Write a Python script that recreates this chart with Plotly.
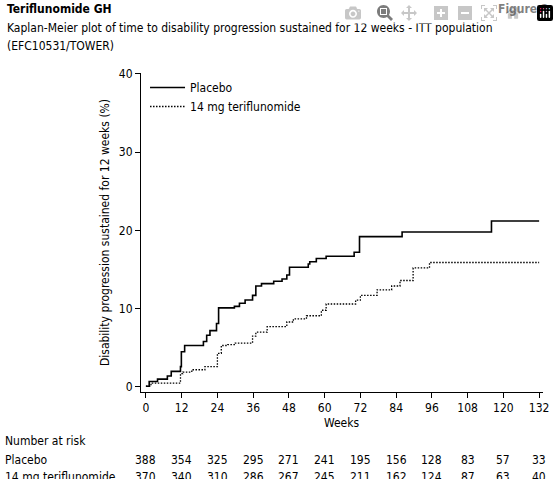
import plotly.graph_objects as go

# Kaplan-Meier step curves (week, cumulative % progressed)
placebo_weeks = [0, 1.1, 3.9, 7.2, 8.5, 11.6, 11.9, 13, 19.3, 20.4, 21.5, 23.7, 24.4, 29.7, 31.4, 33.3,
                 35.8, 36.9, 38.8, 42.9, 45.7, 47.3, 48.2, 54.5, 55, 57.2, 60.5, 69.9, 71.7, 86, 116, 132]
placebo_pct = [0.1, 0.7, 1.0, 1.4, 2.0, 2.6, 4.5, 5.3, 5.8, 6.6, 7.2, 8.1, 10.1, 10.3, 10.7, 11.1,
               11.7, 12.9, 13.2, 13.5, 13.8, 14.3, 15.3, 15.7, 16.0, 16.4, 16.7, 17.2, 19.2, 19.8, 21.2, 21.2]
teri_weeks = [0, 1.7, 11.6, 12.4, 15.4, 19.8, 24, 25.3, 27.5, 30, 35.8, 36.9, 40.7, 47.3, 49.5, 53.9,
              58.9, 60.5, 70.4, 72, 77.6, 82.5, 85.3, 89.7, 95.2, 132]
teri_pct = [0.1, 0.5, 1.7, 1.9, 2.2, 2.6, 4.3, 5.3, 5.4, 5.6, 6.5, 7.0, 7.7, 8.3, 8.7, 9.1,
            9.8, 10.6, 11.1, 11.7, 12.4, 12.9, 13.6, 15.2, 15.9, 15.9]

risk_weeks = [0, 12, 24, 36, 48, 60, 72, 84, 96, 108, 120, 132]
risk_placebo = [388, 354, 325, 295, 271, 241, 195, 156, 128, 83, 57, 33]
risk_teri = [370, 340, 310, 286, 267, 245, 211, 162, 124, 87, 63, 40]

FONT = "DejaVu Sans Condensed, Liberation Sans Narrow, Liberation Sans, sans-serif"
W, H = 559, 479
L, R, T, B = 141, 10, 73, 87
ph = H - T - B


def py(y):
    # pixel row -> paper y
    return (H - B - y) / ph


def px(x):
    return (x - L) / (W - L - R)


fig = go.Figure()
fig.add_trace(go.Scatter(x=placebo_weeks, y=placebo_pct, mode="lines", line_shape="hv",
                         line=dict(color="black", width=1.6), name="Placebo"))
fig.add_trace(go.Scatter(x=teri_weeks, y=teri_pct, mode="lines", line_shape="hv",
                         line=dict(color="black", width=1.3, dash="1.5px,1.5px"), name="14 mg teriflunomide"))

ann = []
txt = dict(color="black", size=12, family=FONT)
ann.append(dict(text="<b>Teriflunomide GH</b>", x=px(3), y=py(9), xanchor="left"))
ann.append(dict(text="<b>Figure 2</b>", x=px(556), y=py(9), xanchor="right"))
ann.append(dict(text="Kaplan-Meier plot of time to disability progression sustained for 12 weeks - ITT population",
                x=px(3), y=py(28), xanchor="left"))
ann.append(dict(text="(EFC10531/TOWER)", x=px(3), y=py(46), xanchor="left"))
ann.append(dict(text="Weeks", x=px(345), y=py(423), xanchor="center"))
ann.append(dict(text="Number at risk", x=px(1), y=py(441), xanchor="left"))
ann.append(dict(text="Placebo", x=px(1), y=py(460), xanchor="left"))
ann.append(dict(text="14 mg teriflunomide", x=px(1), y=py(477), xanchor="left"))
for a in ann:
    a.update(xref="paper", yref="paper", showarrow=False, yanchor="middle", font=txt)
for w, a, b in zip(risk_weeks, risk_placebo, risk_teri):
    for v, yy in ((a, 460), (b, 477)):
        ann.append(dict(text=str(v), x=w, xref="x", y=py(yy), yref="paper", showarrow=False,
                        xanchor="center", yanchor="middle", font=txt))

fig.update_layout(
    width=W, height=H, margin=dict(l=L, r=R, t=T, b=B),
    paper_bgcolor="white", plot_bgcolor="white",
    font=txt, annotations=ann,
    legend=dict(x=0.01, y=1.0, xanchor="left", yanchor="top", bgcolor="rgba(0,0,0,0)",
                font=txt, tracegroupgap=0, itemwidth=35),
    xaxis=dict(range=[-1.65, 133.3], tickvals=risk_weeks, showline=True, linecolor="black",
               ticks="outside", ticklen=5, tickcolor="black", showgrid=False, zeroline=False,
               tickfont=txt),
    yaxis=dict(range=[-0.64, 40.1], tickvals=[0, 10, 20, 30, 40], showline=True, linecolor="black",
               ticks="outside", ticklen=5, tickcolor="black", showgrid=False, zeroline=False,
               tickfont=txt,
               title=dict(text="Disability progression sustained for 12 weeks (%)", font=txt, standoff=6)),
)

fig.write_html("out.html", post_script="document.body.style.margin='0';document.body.style.overflow='hidden';")
